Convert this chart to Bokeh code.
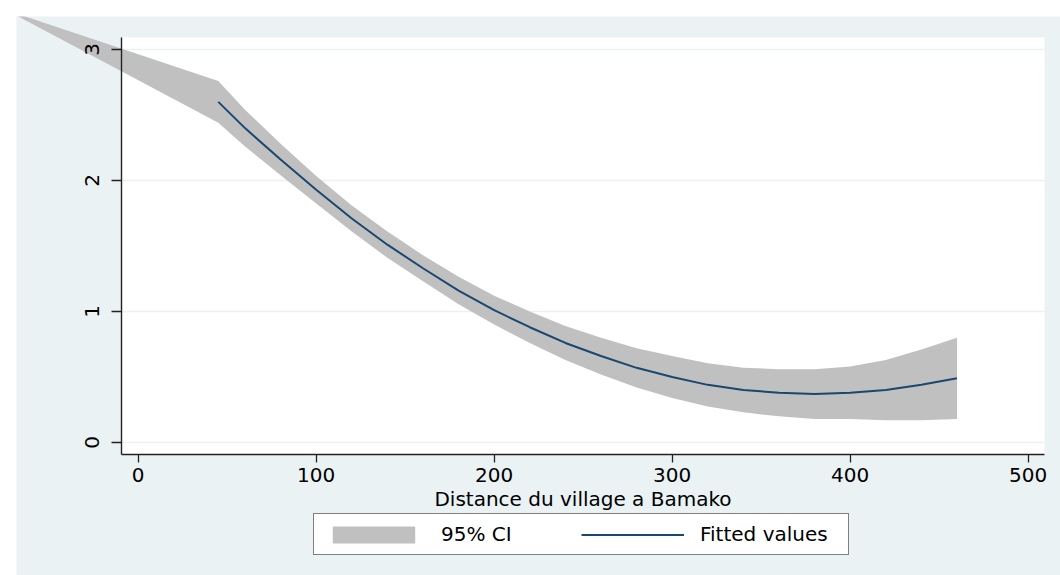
from bokeh.plotting import figure
from bokeh.models import (Range1d, BoxAnnotation, Legend, LegendItem, FixedTicker,
                          ColumnDataSource)
from bokeh.embed import file_html
from bokeh.resources import INLINE

# ---- data ----
fit_x = [45, 60, 80, 100, 120, 140, 160, 180, 200, 220, 240, 260, 280, 300,
         320, 340, 360, 380, 400, 420, 440, 460]
fit_y = [2.60, 2.40, 2.16, 1.93, 1.71, 1.51, 1.33, 1.16, 1.01, 0.88, 0.76, 0.66,
         0.57, 0.50, 0.44, 0.40, 0.38, 0.37, 0.38, 0.40, 0.44, 0.49]

ci_x = [-74, 45, 60, 80, 100, 120, 140, 160, 180, 200, 220, 240, 260, 280, 300,
        320, 340, 360, 380, 400, 420, 440, 460]
ci_upper = [3.30, 2.76, 2.54, 2.28, 2.035, 1.81, 1.61, 1.43, 1.265, 1.12, 1.00, 0.89,
            0.80, 0.72, 0.66, 0.605, 0.57, 0.56, 0.56, 0.58, 0.63, 0.71, 0.80]
ci_lower = [3.30, 2.44, 2.26, 2.04, 1.825, 1.61, 1.41, 1.23, 1.055, 0.90, 0.76, 0.63,
            0.52, 0.42, 0.34, 0.275, 0.23, 0.20, 0.18, 0.18, 0.17, 0.17, 0.18]

x_ticks = [0, 100, 200, 300, 400, 500]
y_ticks = [0, 1, 2, 3]
x_title = "Distance du village a Bamako"
legend_labels = ["95% CI", "Fitted values"]

# plot-region extent (axis ranges of the Stata plot region)
X0, X1 = -9.4, 509.2
Y0, Y1 = -0.0916, 3.0916

BG = "#EAF2F3"
BAND = "#C0C0C0"
NAVY = "#1A476F"
AXC = "#222222"
FONT = "DejaVu Sans"
FS = "20px"

# the frame covers the whole canvas so that the band may spill outside the plot region
p = figure(width=1044, height=559, output_backend="svg", toolbar_location=None,
           x_range=Range1d(-68.37, 518.15), y_range=Range1d(-1.0153, 3.2519),
           min_border_left=0, min_border_right=0, min_border_top=0,
           min_border_bottom=0, border_fill_color=BG,
           background_fill_color=BG, outline_line_color=None)
p.margin = (16, 0, 0, 16)
p.grid.visible = False

# white plot region
p.add_layout(BoxAnnotation(left=X0, right=X1, bottom=Y0, top=Y1,
                           fill_color="white", fill_alpha=1.0, line_color=None,
                           level="image"))

# horizontal grid lines
r_grid = p.segment(x0=[X0] * len(y_ticks), x1=[X1] * len(y_ticks), y0=y_ticks, y1=y_ticks,
                   line_color=BG, line_width=1.5)
r_grid.level = "underlay"

# CI band and fitted line
src_ci = dict(x=ci_x + ci_x[::-1], y=ci_upper + ci_lower[::-1])
r_band = p.patch(x="x", y="y", source=ColumnDataSource(src_ci),
                 fill_color=BAND, fill_alpha=1.0, line_color=None)

src_fit = ColumnDataSource(dict(x=fit_x, y=fit_y))
r_fit = p.line(x="x", y="y", source=src_fit, line_color=NAVY, line_width=2)

# axes, placed at the plot-region edges
for ax in (p.xaxis[0], p.yaxis[0]):
    ax.axis_line_color = AXC
    ax.axis_line_width = 1.4
    ax.major_tick_line_color = AXC
    ax.major_tick_line_width = 1.3
    ax.major_tick_in = 0
    ax.minor_tick_line_color = None
    ax.major_label_text_font = FONT
    ax.major_label_text_font_size = FS
    ax.major_label_text_color = "black"

xa = p.xaxis[0]
xa.fixed_location = Y0
xa.bounds = (X0, X1)
xa.ticker = FixedTicker(ticks=x_ticks)
xa.major_tick_out = 8
xa.major_label_standoff = 6
xa.axis_label = x_title
xa.axis_label_text_font = FONT
xa.axis_label_text_font_size = FS
xa.axis_label_text_font_style = "normal"
xa.axis_label_text_color = "black"
xa.axis_label_standoff = 1

ya = p.yaxis[0]
ya.fixed_location = X0
ya.bounds = (Y0, Y1)
ya.ticker = FixedTicker(ticks=y_ticks)
ya.major_tick_out = 10
ya.major_label_standoff = 12
ya.major_label_orientation = "vertical"

legend = Legend(items=[LegendItem(label=legend_labels[0], renderers=[r_band]),
                       LegendItem(label=legend_labels[1], renderers=[r_fit])],
                orientation="horizontal", location=(297, 20),
                label_text_font=FONT, label_text_font_size=FS,
                label_text_color="black",
                glyph_width=103, glyph_height=21, label_standoff=16,
                label_width=140, spacing=0, padding=8, margin=0,
                border_line_color="black", border_line_width=1,
                background_fill_color="white", background_fill_alpha=1.0)
p.add_layout(legend)

open("out.html", "w").write(file_html(p, INLINE))
